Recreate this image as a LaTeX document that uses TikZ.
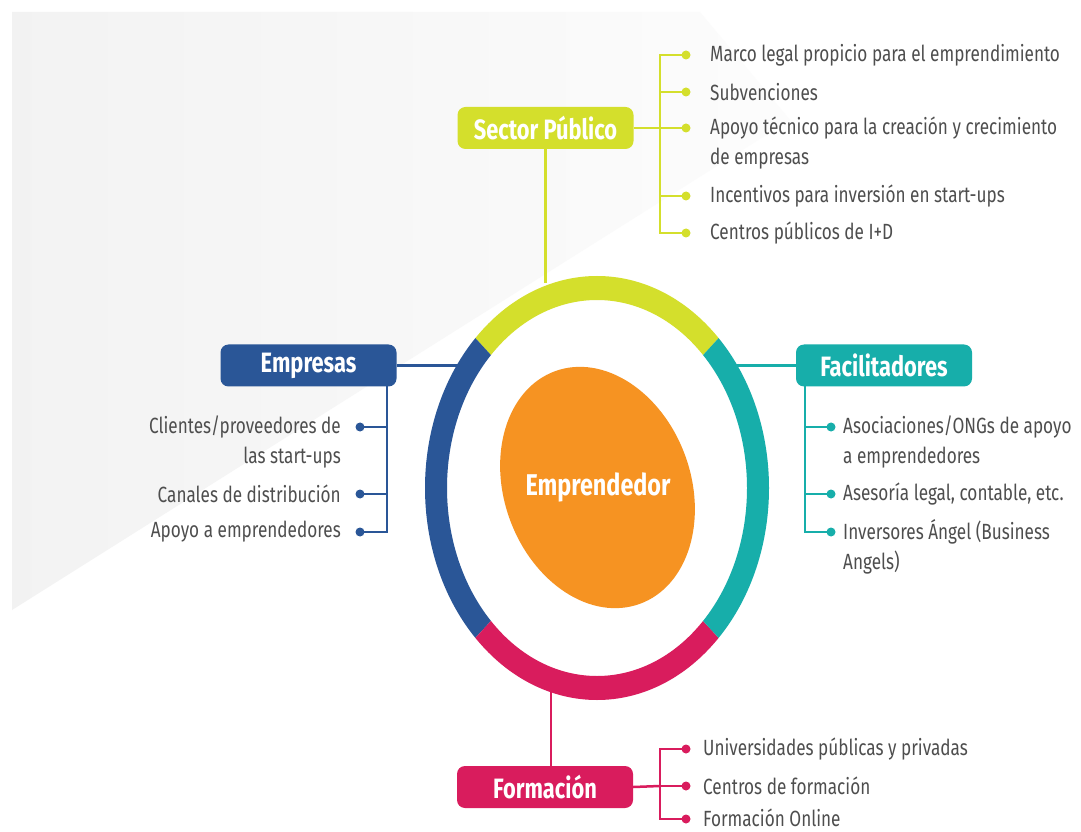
\documentclass[tikz,border=0pt]{standalone}
\usepackage{fontspec}
\setmainfont{Fira Sans}[FakeStretch=0.78]
\usetikzlibrary{calc}
\definecolor{cyel}{HTML}{D4DF2C}
\definecolor{cblue}{HTML}{2A5697}
\definecolor{cteal}{HTML}{17AEAA}
\definecolor{cpink}{HTML}{D91C5D}
\definecolor{corange}{HTML}{F69322}
\definecolor{cgray}{HTML}{4E4E4E}
\newcommand\ringseg[3]{%
  \fill[#1] ($(C)+(#2:172pt and 212pt)$)
    arc[start angle=#2,end angle=#3,x radius=172pt,y radius=212pt]
    -- ($(C)+(#3:150pt and 188pt)$)
    arc[start angle=#3,end angle=#2,x radius=150pt,y radius=188pt] -- cycle;}
\begin{document}
\begin{tikzpicture}[x=1pt,y=1pt,
  lab/.style={rounded corners=8pt, minimum width=176pt, minimum height=42pt,
    text=white, font=\fontsize{28}{30}\selectfont\bfseries, inner sep=0pt},
  item/.style={text=cgray, font=\fontsize{22}{30}\selectfont, inner sep=0pt},
  dot/.style={circle, fill=#1, minimum size=9pt, inner sep=0pt},
  conn/.style={draw=#1, line width=2.5pt},
]
\useasboundingbox (0,0) rectangle (1081,831);
\fill[white] (0,0) rectangle (1081,831);
\shade[left color=black!5, right color=black!1]
  (12,819) -- (700,819) -- (790,711) -- (12,221) -- cycle;

% label boxes
\node[lab, fill=cyel]  (sp) at (545.5,703) {Sector Público};
\node[lab, fill=cblue] (em) at (308.5,465.5) {Empresas};
\node[lab, fill=cteal] (fa) at (884,465.5) {Facilitadores};
\node[lab, fill=cpink] (fo) at (545,44) {Formación};

% ring anchor coordinates
\coordinate (C) at (597,343);
\coordinate (spring) at (545.5,548);
\coordinate (emring) at (462,465.5);
\coordinate (faring) at (732,465.5);
\coordinate (foring) at (551,140);

% Sector Publico
\coordinate (sbr) at (660,703);
\node[dot=cyel] (s1) at (686,776) {};
\node[dot=cyel] (s2) at (686,739) {};
\node[dot=cyel] (s3) at (686,703) {};
\node[dot=cyel] (s4) at (686,635) {};
\node[dot=cyel] (s5) at (686,598) {};
\draw[conn=cyel] (sp.south) -- (spring);
\draw[conn=cyel] (sp.east) -- (sbr);
\draw[conn=cyel] (s1.center) -- (s1 -| sbr) -- (s5 -| sbr) -- (s5.center);
\foreach \i in {2,3,4} \draw[conn=cyel] (s\i -| sbr) -- (s\i.center);
\node[item, anchor=west] (ts1) at (710,776) {Marco legal propicio para el emprendimiento};
\node[item, anchor=west] (ts2) at (710,739) {Subvenciones};
\node[item, anchor=west, align=left] (ts3) at (710,688) {Apoyo técnico para la creación y crecimiento\\de empresas};
\node[item, anchor=west] (ts4) at (710,635) {Incentivos para inversión en start-ups};
\node[item, anchor=west] (ts5) at (710,598) {Centros públicos de I+D};

% Empresas
\coordinate (ebr) at (387,445);
\node[dot=cblue] (e1) at (360,404) {};
\node[dot=cblue] (e2) at (360,337) {};
\node[dot=cblue] (e3) at (360,299) {};
\draw[conn=cblue] (em.east) -- (emring);
\draw[conn=cblue] (ebr) -- (e3 -| ebr) -- (e3.center);
\foreach \i in {1,2} \draw[conn=cblue] (e\i -| ebr) -- (e\i.center);
\node[item, anchor=east, align=right] (te1) at (341,389) {Clientes/proveedores de\\las start-ups};
\node[item, anchor=east] (te2) at (341,337) {Canales de distribución};
\node[item, anchor=east] (te3) at (341,299) {Apoyo a emprendedores};

% Facilitadores
\coordinate (fbr) at (805,445);
\node[dot=cteal] (f1) at (831,404) {};
\node[dot=cteal] (f2) at (831,337) {};
\node[dot=cteal] (f3) at (831,299) {};
\draw[conn=cteal] (faring) -- (fa.west);
\draw[conn=cteal] (fbr) -- (f3 -| fbr) -- (f3.center);
\foreach \i in {1,2} \draw[conn=cteal] (f\i -| fbr) -- (f\i.center);
\node[item, anchor=west, align=left] (tf1) at (843,389) {Asociaciones/ONGs de apoyo\\a emprendedores};
\node[item, anchor=west] (tf2) at (843,337) {Asesoría legal, contable, etc.};
\node[item, anchor=west, align=left] (tf3) at (843,284.5) {Inversores Ángel (Business\\Angels)};

% Formacion
\coordinate (obr) at (660,45);
\node[dot=cpink] (o1) at (686,82) {};
\node[dot=cpink] (o2) at (686,45) {};
\node[dot=cpink] (o3) at (686,12) {};
\draw[conn=cpink] (foring) -- (foring |- fo.north);
\draw[conn=cpink] (fo.east) -- (obr);
\draw[conn=cpink] (o1.center) -- (o1 -| obr) -- (o3 -| obr) -- (o3.center);
\draw[conn=cpink] (o2 -| obr) -- (o2.center);
\node[item, anchor=west] (to1) at (703,82) {Universidades públicas y privadas};
\node[item, anchor=west] (to2) at (703,45) {Centros de formación};
\node[item, anchor=west] (to3) at (703,13) {Formación Online};

% ring
\ringseg{cyel}{45}{135}
\ringseg{cblue}{135}{225}
\ringseg{cpink}{225}{315}
\ringseg{cteal}{-45}{45}

% centre
\fill[corange, rotate around={20:(597.5,343.5)}] (597.5,343.5) ellipse[x radius=93.3pt, y radius=123.8pt];
\node[text=white, font=\fontsize{30}{32}\selectfont\bfseries] (ent) at (598,344) {Emprendedor};
\end{tikzpicture}
\end{document}
